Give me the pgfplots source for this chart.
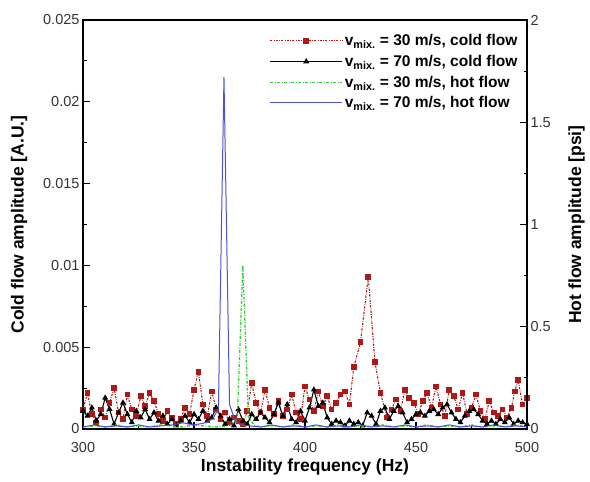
\documentclass[border=0pt]{standalone}
\usepackage{pgfplots}
\pgfplotsset{compat=1.18}
\usepackage{pgfplotstable}
\usepackage{fontspec}
\setmainfont{Liberation Sans}
\definecolor{cred}{HTML}{B01818}
\definecolor{cgreen}{HTML}{33CC33}
\definecolor{cblue}{HTML}{5050D8}
\definecolor{tickgray}{HTML}{333333}

\pgfplotstableread{
f a
300 0.0012
302 0.0022
304 0.0009
306 0.0004
308 0.0012
310 0.0007
312 0.0016
314 0.0025
316 0.0010
318 0.0006
320 0.0021
322 0.0012
324 0.0008
326 0.0020
328 0.0014
330 0.0022
332 0.0017
334 0.0009
336 0.0005
338 0.0011
340 0.0007
342 0.0003
344 0.0006
346 0.0013
348 0.0009
350 0.0024
352 0.0035
354 0.0015
356 0.0008
358 0.0023
360 0.0012
362 0.0006
364 0.0010
366 0.0004
368 0.0007
370 0.0005
372 0.0003
374 0.0011
376 0.0028
378 0.0016
380 0.0010
382 0.0024
384 0.0013
386 0.0009
388 0.0017
390 0.0008
392 0.0012
394 0.0021
396 0.0010
398 0.0006
400 0.0026
402 0.0018
404 0.0011
406 0.0023
408 0.0014
410 0.0020
412 0.0012
414 0.0016
416 0.0021
418 0.0023
420 0.0015
422 0.0038
425 0.0053
428.5 0.0093
431.5 0.0041
434 0.0022
437 0.0007
439 0.0012
441 0.0018
443 0.0011
445 0.0024
447 0.0019
449 0.0016
451 0.0009
453 0.0017
455 0.0022
457 0.0013
459 0.0026
461 0.0015
463 0.0008
465 0.0024
467 0.0020
469 0.0012
471 0.0022
473 0.0009
475 0.0013
477 0.0021
479 0.0011
481 0.0006
483 0.0017
485 0.0010
487 0.0008
489 0.0012
491 0.0007
493 0.0013
494.5 0.0023
496 0.0030
498 0.0015
500 0.0019
}\coldthirty

\pgfplotstableread{
f a
300 0.0011
302 0.0008
304 0.0013
306 0.0005
308 0.0009
310 0.0019
312 0.0012
314 0.0003
316 0.0010
318 0.0016
320 0.0009
322 0.0004
324 0.0011
326 0.0007
328 0.0012
330 0.0006
332 0.0010
334 0.0005
336 0.0008
338 0.0003
340 0.0006
342 0.0002
344 0.0005
346 0.0008
348 0.0004
350 0.0009
352 0.0006
354 0.0011
356 0.0005
358 0.0007
360 0.0013
362 0.0008
364 0.0003
366 0.0006
368 0.0002
370 0.0012
372 0.0005
374 0.0003
376 0.0009
378 0.0006
380 0.0010
382 0.0007
384 0.0004
386 0.0009
388 0.0016
390 0.0008
392 0.0015
394 0.0006
396 0.0004
398 0.0011
400 0.0005
402 0.0013
404 0.0024
406 0.0014
408 0.0016
410 0.0007
412 0.0003
414 0.0005
416 0.0004
418 0.0002
420 0.0005
422 0.0003
424 0.0004
426 0.0002
428 0.0010
430 0.0008
432 0.0003
434 0.0011
436 0.0013
438 0.0006
440 0.0011
442 0.0014
444 0.0010
446 0.0004
448 0.0006
450 0.0009
452 0.0010
454 0.0008
456 0.0011
458 0.0012
460 0.0009
462 0.0013
464 0.0015
466 0.0010
468 0.0006
470 0.0004
472 0.0008
474 0.0011
476 0.0012
478 0.0009
480 0.0005
482 0.0003
484 0.0005
486 0.0003
488 0.0006
490 0.0004
492 0.0007
494 0.0003
496 0.0005
498 0.0004
500 0.0003
}\coldseventy

\pgfplotstableread{
f p
300 0.01
305 0.015
310 0.01
315 0.02
320 0.01
325 0.015
330 0.01
335 0.02
340 0.015
345 0.01
350 0.02
355 0.015
360 0.01
365 0.015
367 0.02
369.5 0.05
372 0.80
374.5 0.06
377 0.02
380 0.01
385 0.015
390 0.01
395 0.02
400 0.01
405 0.015
410 0.01
415 0.02
420 0.01
425 0.015
430 0.01
435 0.02
440 0.01
445 0.015
450 0.01
455 0.02
460 0.01
465 0.015
470 0.01
475 0.02
480 0.01
485 0.015
490 0.01
495 0.02
500 0.01
}\hotthirty

\pgfplotstableread{
f p
300 0.01
305 0.02
310 0.01
315 0.015
320 0.01
325 0.02
330 0.01
335 0.015
340 0.02
345 0.03
350 0.02
355 0.03
358.5 0.05
361 0.10
363.5 1.72
366 0.12
368.5 0.04
371 0.02
375 0.015
380 0.01
385 0.02
390 0.01
395 0.015
400 0.01
405 0.02
410 0.01
415 0.015
420 0.01
425 0.02
430 0.01
435 0.015
440 0.01
445 0.02
450 0.01
455 0.015
460 0.01
465 0.02
470 0.01
475 0.015
480 0.01
485 0.02
490 0.01
495 0.015
500 0.01
}\hotseventy

\begin{document}
\begin{tikzpicture}
\pgfplotsset{
  common/.style={
    scale only axis, width=444pt, height=409pt,
    xmin=300, xmax=500,
    axis line style={line width=1.4pt},
    tick style={line width=1.1pt, black},
    major tick length=7pt, minor tick length=3.5pt,
    /pgf/number format/assume math mode=true,
    scaled y ticks=false, scaled x ticks=false,
    tick label style={font=\fontsize{14.5}{16}\selectfont, text=tickgray},
    label style={font=\bfseries\fontsize{17.5}{20}\selectfont},
  }
}
\begin{axis}[common, name=ax1,
  ymin=0, ymax=0.025,
  xtick={300,350,400,450,500},
  xticklabels={300,350,400,450,500},
  minor x tick num=1,
  xtick pos=bottom, ytick pos=left,
  ytick={0,0.005,0.01,0.015,0.02,0.025},
  yticklabels={0,0.005,0.01,0.015,0.02,0.025},
  minor y tick num=1,
  xlabel={Instability frequency (Hz)},
  ylabel={Cold flow amplitude [A.U.]},
  xticklabel style={yshift=-10pt},
  xlabel style={yshift=1pt},
  ylabel style={yshift=9pt},
]
\addplot[cred, line width=1.1pt, dash pattern=on 2.2pt off 1.3pt on 0.7pt off 1.3pt,
  mark=square*, mark size=2.3pt, mark options={solid, fill=cred, draw=cred}]
  table[x=f, y=a] {\coldthirty};
\addplot[black, line width=1.1pt,
  mark=triangle*, mark size=2.4pt, mark options={solid, fill=black}]
  table[x=f, y=a] {\coldseventy};
\end{axis}
\begin{axis}[common,
  ymin=0, ymax=2,
  axis x line=none,
  axis y line*=right,
  ytick={0,0.5,1,1.5,2},
  yticklabels={0,0.5,1,1.5,2},
  minor y tick num=1,
  ylabel={Hot flow amplitude [psi]},
  ylabel style={yshift=-11pt},
  legend style={at={(0.99,0.975)}, anchor=north east, draw=none, fill=none,
    font=\bfseries\fontsize{15.5}{17}\selectfont, row sep=4pt,
    text=black},
  legend cell align=left,
  legend image code/.code={\draw[#1] plot coordinates {(0pt,0pt) (36pt,0pt) (72pt,0pt)};},
]
\addlegendimage{cred, line width=1.1pt, dash pattern=on 2.2pt off 1.3pt on 0.7pt off 1.3pt,
  mark=square*, mark size=2.4pt, mark repeat=2, mark phase=2, mark options={solid, fill=cred, draw=cred}}
\addlegendentry{v\textsubscript{mix.} = 30 m/s, cold flow}
\addlegendimage{black, line width=1.1pt, mark=triangle*, mark size=2.4pt, mark repeat=2, mark phase=2, mark options={solid, fill=black}}
\addlegendentry{v\textsubscript{mix.} = 70 m/s, cold flow}
\addplot[cgreen, line width=1.3pt, dash pattern=on 3pt off 1.5pt on 1pt off 1.5pt]
  table[x=f, y=p] {\hotthirty};
\addlegendentry{v\textsubscript{mix.} = 30 m/s, hot flow}
\addplot[cblue, line width=1pt]
  table[x=f, y=p] {\hotseventy};
\addlegendentry{v\textsubscript{mix.} = 70 m/s, hot flow}
\end{axis}
\path ([xshift=-83pt,yshift=-52pt]ax1.south west) rectangle ([xshift=63pt,yshift=20pt]ax1.north east);
\end{tikzpicture}
\end{document}
